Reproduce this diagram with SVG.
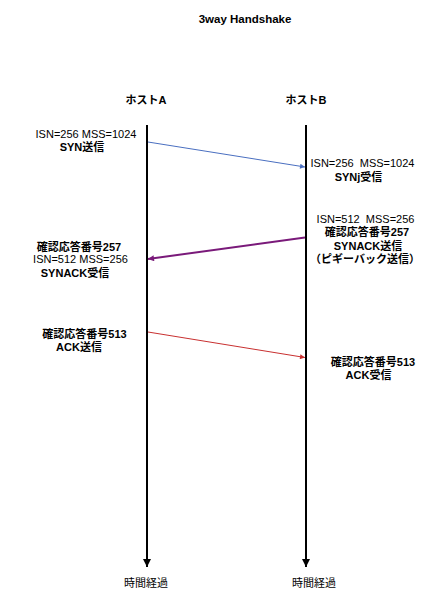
<svg xmlns="http://www.w3.org/2000/svg" width="432" height="600" viewBox="0 0 432 600">
<style>
text{font-family:"Liberation Sans","Noto Sans CJK JP",sans-serif;font-size:11px;fill:#000;text-anchor:middle}
.b{font-weight:bold}
.t{font-size:11.5px;font-weight:bold}
.life{stroke:#000;stroke-width:2;fill:none}
</style>
<defs>
<marker id="hb" viewBox="0 0 10 10" refX="10" refY="5" markerWidth="8" markerHeight="8" markerUnits="userSpaceOnUse" orient="auto"><path d="M0,0L10,5L0,10z" fill="#000"/></marker>
<marker id="hblue" viewBox="0 0 10 10" refX="10" refY="5" markerWidth="6" markerHeight="5" markerUnits="userSpaceOnUse" orient="auto"><path d="M0,0L10,5L0,10z" fill="#4a6fc0"/></marker>
<marker id="hpur" viewBox="0 0 10 10" refX="10" refY="5" markerWidth="7" markerHeight="6" markerUnits="userSpaceOnUse" orient="auto"><path d="M0,0L10,5L0,10z" fill="#7a1a7a"/></marker>
<marker id="hred" viewBox="0 0 10 10" refX="10" refY="5" markerWidth="6" markerHeight="5" markerUnits="userSpaceOnUse" orient="auto"><path d="M0,0L10,5L0,10z" fill="#c83030"/></marker>
</defs>
<rect width="432" height="600" fill="#fff"/>
<text class="t" x="245" y="23">3way Handshake</text>
<g id="hostA">
<text class="b" x="146" y="104">ホストA</text>
<line class="life" x1="147" y1="125" x2="147" y2="567" marker-end="url(#hb)"/>
<text x="146" y="587">時間経過</text>
</g>
<g id="hostB">
<text class="b" x="306" y="104">ホストB</text>
<line class="life" x1="306" y1="125" x2="306" y2="567" marker-end="url(#hb)"/>
<text x="314" y="587">時間経過</text>
</g>
<g id="connectors">
<line x1="148" y1="142" x2="305" y2="167" stroke="#4a6fc0" stroke-width="1" marker-end="url(#hblue)"/>
<line x1="305" y1="237.5" x2="148" y2="259" stroke="#7a1a7a" stroke-width="2" marker-end="url(#hpur)"/>
<line x1="148" y1="332" x2="305" y2="357.5" stroke="#c83030" stroke-width="1" marker-end="url(#hred)"/>
</g>
<g id="labelSynSend">
<text x="86" y="138">ISN=256 MSS=1024</text>
<text class="b" x="82" y="151">SYN送信</text>
</g>
<g id="labelSynRecv">
<text x="362.5" y="166.5" xml:space="preserve">ISN=256  MSS=1024</text>
<text class="b" x="358.5" y="180.5">SYNj受信</text>
</g>
<g id="labelSynAckSend">
<text x="365.5" y="223" xml:space="preserve">ISN=512  MSS=256</text>
<text class="b" x="367" y="236">確認応答番号257</text>
<text class="b" x="368" y="250">SYNACK送信</text>
<text class="b" x="365" y="263">（ピギーバック送信）</text>
</g>
<g id="labelSynAckRecv">
<text class="b" x="79" y="250.5">確認応答番号257</text>
<text x="80.5" y="263">ISN=512 MSS=256</text>
<text class="b" x="75" y="277">SYNACK受信</text>
</g>
<g id="labelAckSend">
<text class="b" x="84.5" y="338">確認応答番号513</text>
<text class="b" x="79" y="350.5">ACK送信</text>
</g>
<g id="labelAckRecv">
<text class="b" x="373" y="365.5">確認応答番号513</text>
<text class="b" x="368.5" y="379">ACK受信</text>
</g>
</svg>
